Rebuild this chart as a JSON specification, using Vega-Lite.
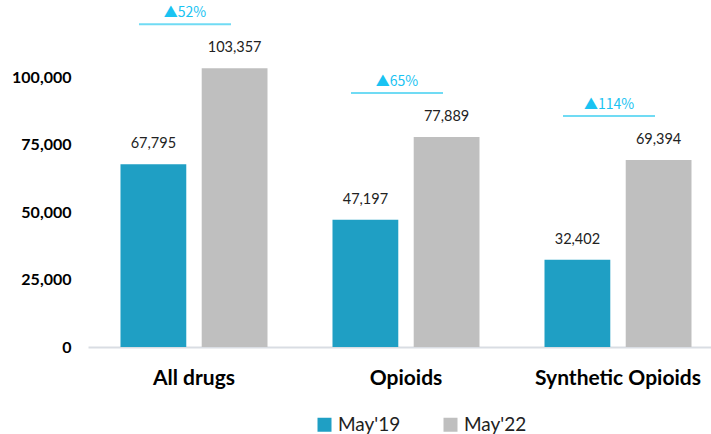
{
  "$schema": "https://vega.github.io/schema/vega-lite/v6.json",
  "width": 623,
  "height": 337,
  "autosize": {"type": "none"},
  "padding": {"left": 88, "top": 10, "right": 0, "bottom": 87},
  "background": "white",
  "config": {"font": "Lato", "view": {"stroke": null}},
  "datasets": {
    "bars": [
      {"category": "All drugs", "period": "May'19", "count": 67795},
      {"category": "All drugs", "period": "May'22", "count": 103357},
      {"category": "Opioids", "period": "May'19", "count": 47197},
      {"category": "Opioids", "period": "May'22", "count": 77889},
      {"category": "Synthetic Opioids", "period": "May'19", "count": 32402},
      {"category": "Synthetic Opioids", "period": "May'22", "count": 69394}
    ],
    "ann": [
      {"category": "All drugs", "may22": 103357, "change": "▲52%"},
      {"category": "Opioids", "may22": 77889, "change": "▲65%"},
      {"category": "Synthetic Opioids", "may22": 69394, "change": "▲114%"}
    ]
  },
  "layer": [
    {
      "data": {"name": "bars"},
      "mark": {"type": "bar"},
      "encoding": {
        "x": {
          "field": "category", "type": "nominal",
          "sort": ["All drugs", "Opioids", "Synthetic Opioids"],
          "scale": {"paddingInner": 0.3066, "paddingOuter": 0.1226, "align": 0.625},
          "axis": {"title": null, "labelAngle": 0, "labelFontSize": 21, "labelFontWeight": "bold", "labelColor": "black", "ticks": false, "domainColor": "#d9dde3", "domainWidth": 2, "labelPadding": 20}
        },
        "xOffset": {"field": "period", "type": "nominal", "scale": {"paddingInner": 0.19, "paddingOuter": 0}},
        "y": {
          "field": "count", "type": "quantitative",
          "scale": {"domain": [0, 125000], "nice": false, "zero": true},
          "axis": {"title": null, "values": [0, 25000, 50000, 75000, 100000], "format": ",d", "grid": false, "domain": false, "ticks": false, "labelFontSize": 16, "labelFontWeight": "bold", "labelColor": "black", "labelPadding": 17}
        },
        "color": {
          "field": "period", "type": "nominal",
          "scale": {"domain": ["May'19", "May'22"], "range": ["#1f9fc4", "#bfbfbf"]},
          "legend": {"title": null, "orient": "none", "legendX": 227, "legendY": 405, "direction": "horizontal", "symbolType": "square", "symbolSize": 196, "symbolStrokeWidth": 0, "labelFontSize": 19, "labelColor": "#222222", "labelOffset": 4, "columnPadding": 40}
        }
      }
    },
    {
      "data": {"name": "bars"},
      "mark": {"type": "text", "dy": -20, "fontSize": 14.5, "color": "#222222"},
      "encoding": {
        "x": {"field": "category", "type": "nominal", "sort": ["All drugs", "Opioids", "Synthetic Opioids"]},
        "xOffset": {"field": "period", "type": "nominal"},
        "y": {"field": "count", "type": "quantitative"},
        "text": {"field": "count", "type": "quantitative", "format": ",d"}
      }
    },
    {
      "data": {"name": "ann"},
      "mark": {"type": "tick", "orient": "horizontal", "size": 92, "thickness": 2, "color": "#33ccf0", "yOffset": -44, "xOffset": -9},
      "encoding": {
        "x": {"field": "category", "type": "nominal", "sort": ["All drugs", "Opioids", "Synthetic Opioids"]},
        "y": {"field": "may22", "type": "quantitative"}
      }
    },
    {
      "data": {"name": "ann"},
      "mark": {"type": "text", "dy": -55, "dx": -9, "fontSize": 14, "font": "Noto Sans CJK SC", "color": "#19c3f2"},
      "encoding": {
        "x": {"field": "category", "type": "nominal", "sort": ["All drugs", "Opioids", "Synthetic Opioids"]},
        "y": {"field": "may22", "type": "quantitative"},
        "text": {"field": "change", "type": "nominal"}
      }
    }
  ]
}
